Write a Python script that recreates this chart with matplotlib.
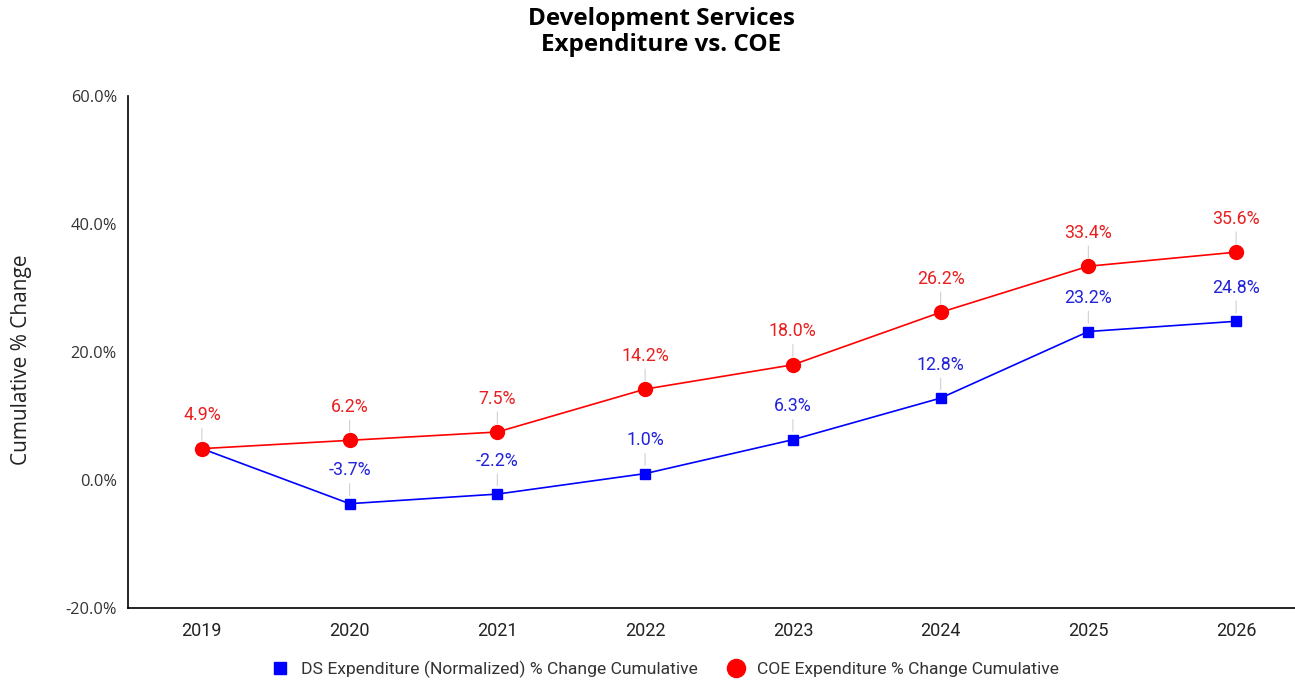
import matplotlib.pyplot as plt
from matplotlib.lines import Line2D

years = ['2019', '2020', '2021', '2022', '2023', '2024', '2025', '2026']
ds_change = [4.9, -3.7, -2.2, 1.0, 6.3, 12.8, 23.2, 24.8]
coe_change = [4.9, 6.2, 7.5, 14.2, 18.0, 26.2, 33.4, 35.6]
y_ticks = [-20, 0, 20, 40, 60]

ds_name = 'DS Expenditure (Normalized) % Change Cumulative'
coe_name = 'COE Expenditure % Change Cumulative'

blue = '#0000ff'
red = '#ff0000'
blue_txt = '#2222dd'
red_txt = '#e82020'

fig = plt.figure(figsize=(12.95, 6.81), dpi=100)
ax = fig.add_axes([128 / 1295, 1 - 608 / 681, 1182 / 1295, 512 / 681])

x = list(range(len(years)))
ax.plot(x, ds_change, color=blue, lw=1.2, marker='s', ms=7, zorder=3)
ax.plot(x, coe_change, color=red, lw=1.2, marker='o', ms=10, zorder=4)

# data labels with thin leader lines
def put_labels(vals, col, skip=()):
    for i, v in enumerate(vals):
        if i in skip:
            continue
        ax.annotate(f'{v:.1f}%', (i, v), xytext=(0, 24), textcoords='offset points',
                    ha='center', va='center', fontsize=12.8, family='Roboto', color=col,
                    arrowprops=dict(arrowstyle='-', color='#d0d0d0', lw=0.8,
                                    shrinkA=1, shrinkB=6), zorder=5)

put_labels(coe_change, red_txt)
put_labels(ds_change, blue_txt, skip=(0,))

ax.set_xlim(-0.5, 7.5)
ax.set_ylim(-20, 60)
ax.set_yticks(y_ticks, labels=[f'{v:.1f}%' for v in y_ticks], fontfamily='Open Sans')
ax.set_xticks(x, labels=years, fontfamily='Roboto')
ax.tick_params(axis='x', length=0, pad=10, labelsize=13, labelcolor='#222222')
ax.tick_params(axis='y', length=0, pad=8, labelsize=11.8, labelcolor='#333333')

ax.spines['top'].set_visible(False)
ax.spines['right'].set_visible(False)
ax.spines['left'].set_linewidth(1.2)
ax.spines['bottom'].set_linewidth(1.2)

fig.text(22 / 1295, 1 - 360 / 681, 'Cumulative % Change', rotation=90, ha='center',
         va='center', fontsize=15, family='Open Sans', color='#222222')

fig.text(661 / 1295, 1 - 7 / 681, 'Development Services\nExpenditure vs. COE', ha='center',
         va='top', fontsize=17.5, fontweight='bold', family='Open Sans', linespacing=1.12)

handles = [Line2D([], [], color=blue, marker='s', ms=9, ls='none'),
           Line2D([], [], color=red, marker='o', ms=13, ls='none')]
leg = fig.legend(handles, [ds_name, coe_name], loc='center', bbox_to_anchor=(661 / 1295, 1 - 669 / 681),
                 ncol=2, frameon=False, handletextpad=0.2, columnspacing=1.2,
                 prop={'family': 'Roboto', 'size': 12.6})
for t in leg.get_texts():
    t.set_color('#333333')

plt.savefig('out.png', dpi=100)
